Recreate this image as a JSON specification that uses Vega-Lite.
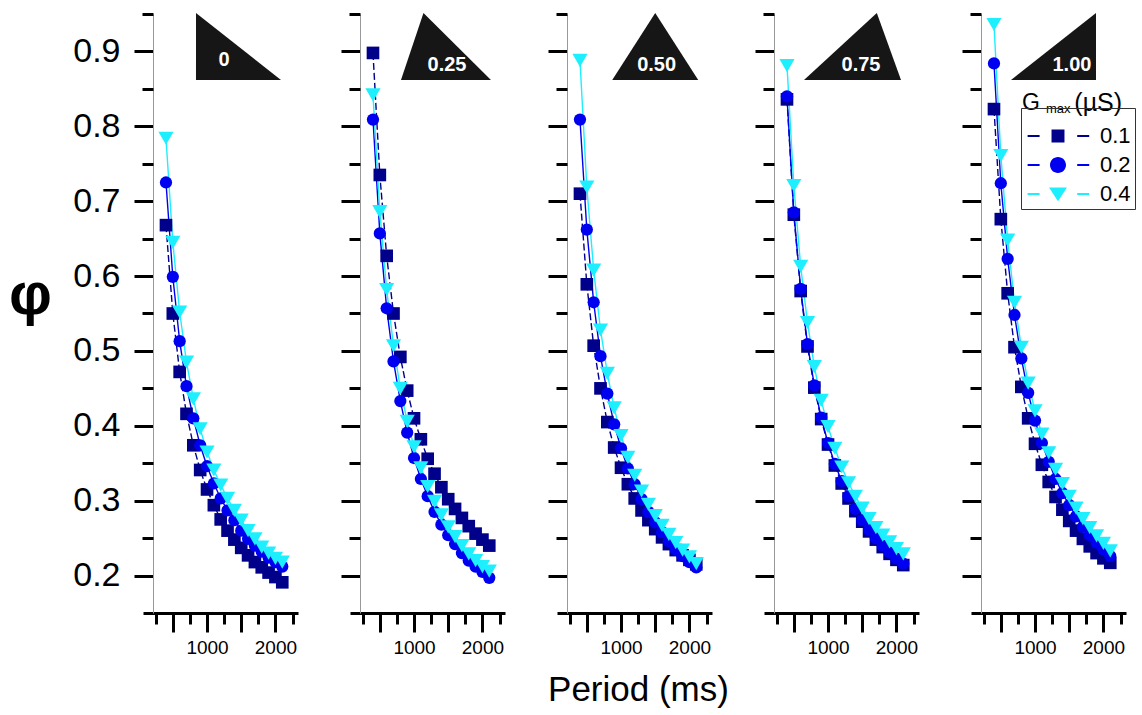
{
"$schema":"https://vega.github.io/schema/vega-lite/v6.json",
"background":"white",
"padding":{"left":8,"top":12,"right":5,"bottom":5},
"config":{"font":"Liberation Sans","view":{"stroke":null},"axis":{"labelFont":"Liberation Sans","titleFont":"Liberation Sans"}},
"spacing":52,
"bounds":"flush",
"resolve":{"legend":{"shape":"independent","color":"independent"}},
"datasets":{
"asym":[{"w":"0"},{"w":"0.25"},{"w":"0.50"},{"w":"0.75"},{"w":"1.00"}],
"pts":[
{"w":"0","g":"0.1","p":400,"v":0.668},{"w":"0","g":"0.1","p":500,"v":0.550},{"w":"0","g":"0.1","p":600,"v":0.472},{"w":"0","g":"0.1","p":700,"v":0.416},{"w":"0","g":"0.1","p":800,"v":0.374},{"w":"0","g":"0.1","p":900,"v":0.341},{"w":"0","g":"0.1","p":1000,"v":0.315},{"w":"0","g":"0.1","p":1100,"v":0.294},{"w":"0","g":"0.1","p":1200,"v":0.275},{"w":"0","g":"0.1","p":1300,"v":0.260},{"w":"0","g":"0.1","p":1400,"v":0.248},{"w":"0","g":"0.1","p":1500,"v":0.237},{"w":"0","g":"0.1","p":1600,"v":0.227},{"w":"0","g":"0.1","p":1700,"v":0.218},{"w":"0","g":"0.1","p":1800,"v":0.211},{"w":"0","g":"0.1","p":1900,"v":0.204},{"w":"0","g":"0.1","p":2000,"v":0.198},{"w":"0","g":"0.1","p":2100,"v":0.191},
{"w":"0","g":"0.2","p":400,"v":0.725},{"w":"0","g":"0.2","p":500,"v":0.599},{"w":"0","g":"0.2","p":600,"v":0.513},{"w":"0","g":"0.2","p":700,"v":0.453},{"w":"0","g":"0.2","p":800,"v":0.410},{"w":"0","g":"0.2","p":900,"v":0.374},{"w":"0","g":"0.2","p":1000,"v":0.346},{"w":"0","g":"0.2","p":1100,"v":0.323},{"w":"0","g":"0.2","p":1200,"v":0.303},{"w":"0","g":"0.2","p":1300,"v":0.287},{"w":"0","g":"0.2","p":1400,"v":0.274},{"w":"0","g":"0.2","p":1500,"v":0.260},{"w":"0","g":"0.2","p":1600,"v":0.249},{"w":"0","g":"0.2","p":1700,"v":0.240},{"w":"0","g":"0.2","p":1800,"v":0.232},{"w":"0","g":"0.2","p":1900,"v":0.224},{"w":"0","g":"0.2","p":2000,"v":0.218},{"w":"0","g":"0.2","p":2100,"v":0.212},
{"w":"0","g":"0.4","p":400,"v":0.784},{"w":"0","g":"0.4","p":500,"v":0.645},{"w":"0","g":"0.4","p":600,"v":0.552},{"w":"0","g":"0.4","p":700,"v":0.485},{"w":"0","g":"0.4","p":800,"v":0.436},{"w":"0","g":"0.4","p":900,"v":0.396},{"w":"0","g":"0.4","p":1000,"v":0.365},{"w":"0","g":"0.4","p":1100,"v":0.341},{"w":"0","g":"0.4","p":1200,"v":0.321},{"w":"0","g":"0.4","p":1300,"v":0.303},{"w":"0","g":"0.4","p":1400,"v":0.287},{"w":"0","g":"0.4","p":1500,"v":0.274},{"w":"0","g":"0.4","p":1600,"v":0.260},{"w":"0","g":"0.4","p":1700,"v":0.249},{"w":"0","g":"0.4","p":1800,"v":0.238},{"w":"0","g":"0.4","p":1900,"v":0.230},{"w":"0","g":"0.4","p":2000,"v":0.223},{"w":"0","g":"0.4","p":2100,"v":0.218},
{"w":"0.25","g":"0.1","p":400,"v":0.898},{"w":"0.25","g":"0.1","p":500,"v":0.735},{"w":"0.25","g":"0.1","p":600,"v":0.627},{"w":"0.25","g":"0.1","p":700,"v":0.550},{"w":"0.25","g":"0.1","p":800,"v":0.492},{"w":"0.25","g":"0.1","p":900,"v":0.447},{"w":"0.25","g":"0.1","p":1000,"v":0.410},{"w":"0.25","g":"0.1","p":1100,"v":0.382},{"w":"0.25","g":"0.1","p":1200,"v":0.356},{"w":"0.25","g":"0.1","p":1300,"v":0.336},{"w":"0.25","g":"0.1","p":1400,"v":0.318},{"w":"0.25","g":"0.1","p":1500,"v":0.302},{"w":"0.25","g":"0.1","p":1600,"v":0.289},{"w":"0.25","g":"0.1","p":1700,"v":0.277},{"w":"0.25","g":"0.1","p":1800,"v":0.266},{"w":"0.25","g":"0.1","p":1900,"v":0.256},{"w":"0.25","g":"0.1","p":2000,"v":0.248},{"w":"0.25","g":"0.1","p":2100,"v":0.240},
{"w":"0.25","g":"0.2","p":400,"v":0.809},{"w":"0.25","g":"0.2","p":500,"v":0.657},{"w":"0.25","g":"0.2","p":600,"v":0.557},{"w":"0.25","g":"0.2","p":700,"v":0.486},{"w":"0.25","g":"0.2","p":800,"v":0.433},{"w":"0.25","g":"0.2","p":900,"v":0.391},{"w":"0.25","g":"0.2","p":1000,"v":0.357},{"w":"0.25","g":"0.2","p":1100,"v":0.329},{"w":"0.25","g":"0.2","p":1200,"v":0.306},{"w":"0.25","g":"0.2","p":1300,"v":0.285},{"w":"0.25","g":"0.2","p":1400,"v":0.268},{"w":"0.25","g":"0.2","p":1500,"v":0.254},{"w":"0.25","g":"0.2","p":1600,"v":0.242},{"w":"0.25","g":"0.2","p":1700,"v":0.230},{"w":"0.25","g":"0.2","p":1800,"v":0.220},{"w":"0.25","g":"0.2","p":1900,"v":0.212},{"w":"0.25","g":"0.2","p":2000,"v":0.205},{"w":"0.25","g":"0.2","p":2100,"v":0.197},
{"w":"0.25","g":"0.4","p":400,"v":0.842},{"w":"0.25","g":"0.4","p":500,"v":0.686},{"w":"0.25","g":"0.4","p":600,"v":0.582},{"w":"0.25","g":"0.4","p":700,"v":0.507},{"w":"0.25","g":"0.4","p":800,"v":0.450},{"w":"0.25","g":"0.4","p":900,"v":0.406},{"w":"0.25","g":"0.4","p":1000,"v":0.372},{"w":"0.25","g":"0.4","p":1100,"v":0.344},{"w":"0.25","g":"0.4","p":1200,"v":0.319},{"w":"0.25","g":"0.4","p":1300,"v":0.299},{"w":"0.25","g":"0.4","p":1400,"v":0.281},{"w":"0.25","g":"0.4","p":1500,"v":0.265},{"w":"0.25","g":"0.4","p":1600,"v":0.252},{"w":"0.25","g":"0.4","p":1700,"v":0.240},{"w":"0.25","g":"0.4","p":1800,"v":0.229},{"w":"0.25","g":"0.4","p":1900,"v":0.220},{"w":"0.25","g":"0.4","p":2000,"v":0.212},{"w":"0.25","g":"0.4","p":2100,"v":0.206},
{"w":"0.50","g":"0.1","p":400,"v":0.710},{"w":"0.50","g":"0.1","p":500,"v":0.589},{"w":"0.50","g":"0.1","p":600,"v":0.507},{"w":"0.50","g":"0.1","p":700,"v":0.450},{"w":"0.50","g":"0.1","p":800,"v":0.405},{"w":"0.50","g":"0.1","p":900,"v":0.371},{"w":"0.50","g":"0.1","p":1000,"v":0.344},{"w":"0.50","g":"0.1","p":1100,"v":0.322},{"w":"0.50","g":"0.1","p":1200,"v":0.303},{"w":"0.50","g":"0.1","p":1300,"v":0.287},{"w":"0.50","g":"0.1","p":1400,"v":0.274},{"w":"0.50","g":"0.1","p":1500,"v":0.262},{"w":"0.50","g":"0.1","p":1600,"v":0.251},{"w":"0.50","g":"0.1","p":1700,"v":0.242},{"w":"0.50","g":"0.1","p":1800,"v":0.234},{"w":"0.50","g":"0.1","p":1900,"v":0.227},{"w":"0.50","g":"0.1","p":2000,"v":0.221},{"w":"0.50","g":"0.1","p":2100,"v":0.215},
{"w":"0.50","g":"0.2","p":400,"v":0.809},{"w":"0.50","g":"0.2","p":500,"v":0.662},{"w":"0.50","g":"0.2","p":600,"v":0.565},{"w":"0.50","g":"0.2","p":700,"v":0.493},{"w":"0.50","g":"0.2","p":800,"v":0.443},{"w":"0.50","g":"0.2","p":900,"v":0.402},{"w":"0.50","g":"0.2","p":1000,"v":0.370},{"w":"0.50","g":"0.2","p":1100,"v":0.343},{"w":"0.50","g":"0.2","p":1200,"v":0.322},{"w":"0.50","g":"0.2","p":1300,"v":0.302},{"w":"0.50","g":"0.2","p":1400,"v":0.285},{"w":"0.50","g":"0.2","p":1500,"v":0.271},{"w":"0.50","g":"0.2","p":1600,"v":0.258},{"w":"0.50","g":"0.2","p":1700,"v":0.246},{"w":"0.50","g":"0.2","p":1800,"v":0.235},{"w":"0.50","g":"0.2","p":1900,"v":0.226},{"w":"0.50","g":"0.2","p":2000,"v":0.218},{"w":"0.50","g":"0.2","p":2100,"v":0.211},
{"w":"0.50","g":"0.4","p":400,"v":0.888},{"w":"0.50","g":"0.4","p":500,"v":0.719},{"w":"0.50","g":"0.4","p":600,"v":0.608},{"w":"0.50","g":"0.4","p":700,"v":0.528},{"w":"0.50","g":"0.4","p":800,"v":0.470},{"w":"0.50","g":"0.4","p":900,"v":0.424},{"w":"0.50","g":"0.4","p":1000,"v":0.387},{"w":"0.50","g":"0.4","p":1100,"v":0.358},{"w":"0.50","g":"0.4","p":1200,"v":0.334},{"w":"0.50","g":"0.4","p":1300,"v":0.313},{"w":"0.50","g":"0.4","p":1400,"v":0.295},{"w":"0.50","g":"0.4","p":1500,"v":0.280},{"w":"0.50","g":"0.4","p":1600,"v":0.267},{"w":"0.50","g":"0.4","p":1700,"v":0.255},{"w":"0.50","g":"0.4","p":1800,"v":0.244},{"w":"0.50","g":"0.4","p":1900,"v":0.234},{"w":"0.50","g":"0.4","p":2000,"v":0.225},{"w":"0.50","g":"0.4","p":2100,"v":0.216},
{"w":"0.75","g":"0.1","p":400,"v":0.836},{"w":"0.75","g":"0.1","p":500,"v":0.682},{"w":"0.75","g":"0.1","p":600,"v":0.580},{"w":"0.75","g":"0.1","p":700,"v":0.506},{"w":"0.75","g":"0.1","p":800,"v":0.451},{"w":"0.75","g":"0.1","p":900,"v":0.409},{"w":"0.75","g":"0.1","p":1000,"v":0.375},{"w":"0.75","g":"0.1","p":1100,"v":0.347},{"w":"0.75","g":"0.1","p":1200,"v":0.323},{"w":"0.75","g":"0.1","p":1300,"v":0.303},{"w":"0.75","g":"0.1","p":1400,"v":0.286},{"w":"0.75","g":"0.1","p":1500,"v":0.272},{"w":"0.75","g":"0.1","p":1600,"v":0.259},{"w":"0.75","g":"0.1","p":1700,"v":0.248},{"w":"0.75","g":"0.1","p":1800,"v":0.238},{"w":"0.75","g":"0.1","p":1900,"v":0.229},{"w":"0.75","g":"0.1","p":2000,"v":0.221},{"w":"0.75","g":"0.1","p":2100,"v":0.214},
{"w":"0.75","g":"0.2","p":400,"v":0.840},{"w":"0.75","g":"0.2","p":500,"v":0.685},{"w":"0.75","g":"0.2","p":600,"v":0.583},{"w":"0.75","g":"0.2","p":700,"v":0.509},{"w":"0.75","g":"0.2","p":800,"v":0.454},{"w":"0.75","g":"0.2","p":900,"v":0.411},{"w":"0.75","g":"0.2","p":1000,"v":0.377},{"w":"0.75","g":"0.2","p":1100,"v":0.349},{"w":"0.75","g":"0.2","p":1200,"v":0.326},{"w":"0.75","g":"0.2","p":1300,"v":0.306},{"w":"0.75","g":"0.2","p":1400,"v":0.289},{"w":"0.75","g":"0.2","p":1500,"v":0.274},{"w":"0.75","g":"0.2","p":1600,"v":0.261},{"w":"0.75","g":"0.2","p":1700,"v":0.250},{"w":"0.75","g":"0.2","p":1800,"v":0.240},{"w":"0.75","g":"0.2","p":1900,"v":0.231},{"w":"0.75","g":"0.2","p":2000,"v":0.223},{"w":"0.75","g":"0.2","p":2100,"v":0.216},
{"w":"0.75","g":"0.4","p":400,"v":0.881},{"w":"0.75","g":"0.4","p":500,"v":0.721},{"w":"0.75","g":"0.4","p":600,"v":0.613},{"w":"0.75","g":"0.4","p":700,"v":0.538},{"w":"0.75","g":"0.4","p":800,"v":0.479},{"w":"0.75","g":"0.4","p":900,"v":0.434},{"w":"0.75","g":"0.4","p":1000,"v":0.399},{"w":"0.75","g":"0.4","p":1100,"v":0.370},{"w":"0.75","g":"0.4","p":1200,"v":0.345},{"w":"0.75","g":"0.4","p":1300,"v":0.324},{"w":"0.75","g":"0.4","p":1400,"v":0.306},{"w":"0.75","g":"0.4","p":1500,"v":0.290},{"w":"0.75","g":"0.4","p":1600,"v":0.276},{"w":"0.75","g":"0.4","p":1700,"v":0.264},{"w":"0.75","g":"0.4","p":1800,"v":0.254},{"w":"0.75","g":"0.4","p":1900,"v":0.245},{"w":"0.75","g":"0.4","p":2000,"v":0.236},{"w":"0.75","g":"0.4","p":2100,"v":0.229},
{"w":"1.00","g":"0.1","p":400,"v":0.823},{"w":"1.00","g":"0.1","p":500,"v":0.676},{"w":"1.00","g":"0.1","p":600,"v":0.577},{"w":"1.00","g":"0.1","p":700,"v":0.505},{"w":"1.00","g":"0.1","p":800,"v":0.452},{"w":"1.00","g":"0.1","p":900,"v":0.410},{"w":"1.00","g":"0.1","p":1000,"v":0.376},{"w":"1.00","g":"0.1","p":1100,"v":0.348},{"w":"1.00","g":"0.1","p":1200,"v":0.325},{"w":"1.00","g":"0.1","p":1300,"v":0.305},{"w":"1.00","g":"0.1","p":1400,"v":0.288},{"w":"1.00","g":"0.1","p":1500,"v":0.273},{"w":"1.00","g":"0.1","p":1600,"v":0.260},{"w":"1.00","g":"0.1","p":1700,"v":0.249},{"w":"1.00","g":"0.1","p":1800,"v":0.239},{"w":"1.00","g":"0.1","p":1900,"v":0.230},{"w":"1.00","g":"0.1","p":2000,"v":0.223},{"w":"1.00","g":"0.1","p":2100,"v":0.217},
{"w":"1.00","g":"0.2","p":400,"v":0.884},{"w":"1.00","g":"0.2","p":500,"v":0.724},{"w":"1.00","g":"0.2","p":600,"v":0.623},{"w":"1.00","g":"0.2","p":700,"v":0.548},{"w":"1.00","g":"0.2","p":800,"v":0.490},{"w":"1.00","g":"0.2","p":900,"v":0.444},{"w":"1.00","g":"0.2","p":1000,"v":0.407},{"w":"1.00","g":"0.2","p":1100,"v":0.377},{"w":"1.00","g":"0.2","p":1200,"v":0.352},{"w":"1.00","g":"0.2","p":1300,"v":0.329},{"w":"1.00","g":"0.2","p":1400,"v":0.310},{"w":"1.00","g":"0.2","p":1500,"v":0.294},{"w":"1.00","g":"0.2","p":1600,"v":0.279},{"w":"1.00","g":"0.2","p":1700,"v":0.265},{"w":"1.00","g":"0.2","p":1800,"v":0.254},{"w":"1.00","g":"0.2","p":1900,"v":0.244},{"w":"1.00","g":"0.2","p":2000,"v":0.235},{"w":"1.00","g":"0.2","p":2100,"v":0.226},
{"w":"1.00","g":"0.4","p":400,"v":0.936},{"w":"1.00","g":"0.4","p":500,"v":0.761},{"w":"1.00","g":"0.4","p":600,"v":0.648},{"w":"1.00","g":"0.4","p":700,"v":0.565},{"w":"1.00","g":"0.4","p":800,"v":0.505},{"w":"1.00","g":"0.4","p":900,"v":0.457},{"w":"1.00","g":"0.4","p":1000,"v":0.420},{"w":"1.00","g":"0.4","p":1100,"v":0.389},{"w":"1.00","g":"0.4","p":1200,"v":0.364},{"w":"1.00","g":"0.4","p":1300,"v":0.342},{"w":"1.00","g":"0.4","p":1400,"v":0.323},{"w":"1.00","g":"0.4","p":1500,"v":0.306},{"w":"1.00","g":"0.4","p":1600,"v":0.290},{"w":"1.00","g":"0.4","p":1700,"v":0.276},{"w":"1.00","g":"0.4","p":1800,"v":0.264},{"w":"1.00","g":"0.4","p":1900,"v":0.253},{"w":"1.00","g":"0.4","p":2000,"v":0.243},{"w":"1.00","g":"0.4","p":2100,"v":0.233}
]},
"hconcat":[
{"width":155,"height":599,"layer":[
{"data":{"name":"pts"},"transform":[{"filter":"datum.w==='0' && datum.g==='0.1'"}],"mark":{"type":"line","color":"#00008B","strokeWidth":1.4,"strokeDash":[7,3]},
"encoding":{"x":{"field":"p","type":"quantitative","scale":{"domain":[64,2330],"nice":false,"zero":false},"axis":{"orient":"bottom","values":[500,1000,1500,2000],"format":"d","labelExpr":"datum.value % 1000 === 0 ? datum.label : ''","title":null,"grid":false,"domainColor":"black","domainWidth":3,"tickSize":19,"tickWidth":3,"tickColor":"black","labelFontSize":19,"labelColor":"black","labelPadding":6,"labelFlush":false,"labelOverlap":false,"labelBound":false}},
"y":{"field":"v","type":"quantitative","scale":{"domain":[0.15,0.95],"nice":false,"zero":false},"axis":{"orient":"left","offset":-10,"values":[0.2,0.3,0.4,0.5,0.6,0.7,0.8,0.9],"format":".1f","grid":false,"domainColor":"#999999","domainWidth":1,"tickSize":19,"tickWidth":3,"tickColor":"black","labelFontSize":34,"labelColor":"black","labelPadding":14,"labelFlush":false,"labelOverlap":false,"title":"φ","titleFontSize":60,"titleFontWeight":"bold","titleColor":"black","titleAngle":0,"titleAlign":"center","titleBaseline":"alphabetic","titleX":-123,"titleY":299}}}},
{"data":{"name":"pts"},"transform":[{"filter":"datum.w==='0' && datum.g==='0.2'"}],"mark":{"type":"line","color":"#0000F0","strokeWidth":1.4},"encoding":{"x":{"field":"p","type":"quantitative","axis":null},"y":{"field":"v","type":"quantitative","axis":null}}},
{"data":{"name":"pts"},"transform":[{"filter":"datum.w==='0' && datum.g==='0.4'"}],"mark":{"type":"line","color":"#1EEFFF","strokeWidth":1.4},"encoding":{"x":{"field":"p","type":"quantitative","axis":null},"y":{"field":"v","type":"quantitative","axis":null}}},
{"data":{"name":"pts"},"transform":[{"filter":"datum.w==='0' && datum.g==='0.1'"}],"mark":{"type":"point","shape":"square","size":160,"filled":true,"color":"#00008B","opacity":1,"strokeWidth":0},
"encoding":{"x":{"field":"p","type":"quantitative","axis":{"orient":"bottom","values":[250,750,1250,1750,2250],"labels":false,"domain":false,"grid":false,"tickSize":11,"tickWidth":3,"tickColor":"black","title":null}},
"y":{"field":"v","type":"quantitative","axis":{"orient":"left","offset":-10,"values":[0.25,0.35,0.45,0.55,0.65,0.75,0.85,0.95],"labels":false,"domain":false,"grid":false,"tickSize":11,"tickWidth":3,"tickColor":"black","title":null}}}},
{"data":{"name":"pts"},"transform":[{"filter":"datum.w==='0' && datum.g==='0.2'"}],"mark":{"type":"point","shape":"circle","size":150,"filled":true,"color":"#0000F0","opacity":1,"strokeWidth":0},"encoding":{"x":{"field":"p","type":"quantitative","axis":null},"y":{"field":"v","type":"quantitative","axis":null}}},
{"data":{"name":"pts"},"transform":[{"filter":"datum.w==='0' && datum.g==='0.4'"}],"mark":{"type":"point","shape":"triangle-down","size":230,"filled":true,"color":"#1EEFFF","opacity":1,"strokeWidth":0},"encoding":{"x":{"field":"p","type":"quantitative","axis":null},"y":{"field":"v","type":"quantitative","axis":null}}},
{"data":{"name":"asym"},"transform":[{"filter":"datum.w==='0'"}],"mark":{"type":"point","shape":"M -4.25 -3.35 L -4.25 3.35 L 4.25 3.35 Z","size":400,"filled":true,"color":"#161616","opacity":1,"strokeWidth":0},
"encoding":{"x":{"datum":1460,"type":"quantitative","axis":null},"y":{"datum":0.9066,"type":"quantitative","axis":null}}},
{"data":{"name":"asym"},"transform":[{"filter":"datum.w==='0'"}],"mark":{"type":"text","color":"white","fontWeight":"bold","fontSize":20},
"encoding":{"x":{"datum":1250,"type":"quantitative","axis":null},"y":{"datum":0.8886,"type":"quantitative","axis":null},"text":{"field":"w"}}}
],"resolve":{"axis":{"x":"independent","y":"independent"}}},
{"width":155,"height":599,"layer":[
{"data":{"name":"pts"},"transform":[{"filter":"datum.w==='0.25' && datum.g==='0.1'"}],"mark":{"type":"line","color":"#00008B","strokeWidth":1.4,"strokeDash":[7,3]},
"encoding":{"x":{"field":"p","type":"quantitative","scale":{"domain":[64,2330],"nice":false,"zero":false},"axis":{"orient":"bottom","values":[500,1000,1500,2000],"format":"d","labelExpr":"datum.value % 1000 === 0 ? datum.label : ''","title":null,"grid":false,"domainColor":"black","domainWidth":3,"tickSize":19,"tickWidth":3,"tickColor":"black","labelFontSize":19,"labelColor":"black","labelPadding":6,"labelFlush":false,"labelOverlap":false,"labelBound":false}},
"y":{"field":"v","type":"quantitative","scale":{"domain":[0.15,0.95],"nice":false,"zero":false},"axis":{"orient":"left","offset":-10,"values":[0.2,0.3,0.4,0.5,0.6,0.7,0.8,0.9],"labels":false,"grid":false,"domainColor":"#999999","domainWidth":1,"tickSize":19,"tickWidth":3,"tickColor":"black","title":null}}}},
{"data":{"name":"pts"},"transform":[{"filter":"datum.w==='0.25' && datum.g==='0.2'"}],"mark":{"type":"line","color":"#0000F0","strokeWidth":1.4},"encoding":{"x":{"field":"p","type":"quantitative","axis":null},"y":{"field":"v","type":"quantitative","axis":null}}},
{"data":{"name":"pts"},"transform":[{"filter":"datum.w==='0.25' && datum.g==='0.4'"}],"mark":{"type":"line","color":"#1EEFFF","strokeWidth":1.4},"encoding":{"x":{"field":"p","type":"quantitative","axis":null},"y":{"field":"v","type":"quantitative","axis":null}}},
{"data":{"name":"pts"},"transform":[{"filter":"datum.w==='0.25' && datum.g==='0.1'"}],"mark":{"type":"point","shape":"square","size":160,"filled":true,"color":"#00008B","opacity":1,"strokeWidth":0},
"encoding":{"x":{"field":"p","type":"quantitative","axis":{"orient":"bottom","values":[250,750,1250,1750,2250],"labels":false,"domain":false,"grid":false,"tickSize":11,"tickWidth":3,"tickColor":"black","title":null}},
"y":{"field":"v","type":"quantitative","axis":{"orient":"left","offset":-10,"values":[0.25,0.35,0.45,0.55,0.65,0.75,0.85,0.95],"labels":false,"domain":false,"grid":false,"tickSize":11,"tickWidth":3,"tickColor":"black","title":null}}}},
{"data":{"name":"pts"},"transform":[{"filter":"datum.w==='0.25' && datum.g==='0.2'"}],"mark":{"type":"point","shape":"circle","size":150,"filled":true,"color":"#0000F0","opacity":1,"strokeWidth":0},"encoding":{"x":{"field":"p","type":"quantitative","axis":null},"y":{"field":"v","type":"quantitative","axis":null}}},
{"data":{"name":"pts"},"transform":[{"filter":"datum.w==='0.25' && datum.g==='0.4'"}],"mark":{"type":"point","shape":"triangle-down","size":230,"filled":true,"color":"#1EEFFF","opacity":1,"strokeWidth":0},"encoding":{"x":{"field":"p","type":"quantitative","axis":null},"y":{"field":"v","type":"quantitative","axis":null}}},
{"data":{"name":"asym"},"transform":[{"filter":"datum.w==='0.25'"}],"mark":{"type":"point","shape":"M -4.5 3.35 L -2.25 -3.35 L 4.5 3.35 Z","size":400,"filled":true,"color":"#161616","opacity":1,"strokeWidth":0},
"encoding":{"x":{"datum":1467,"type":"quantitative","axis":null},"y":{"datum":0.9066,"type":"quantitative","axis":null}}},
{"data":{"name":"asym"},"transform":[{"filter":"datum.w==='0.25'"}],"mark":{"type":"text","color":"white","fontWeight":"bold","fontSize":20},
"encoding":{"x":{"datum":1482,"type":"quantitative","axis":null},"y":{"datum":0.882,"type":"quantitative","axis":null},"text":{"field":"w"}}}
],"resolve":{"axis":{"x":"independent","y":"independent"}}},
{"width":155,"height":599,"layer":[
{"data":{"name":"pts"},"transform":[{"filter":"datum.w==='0.50' && datum.g==='0.1'"}],"mark":{"type":"line","color":"#00008B","strokeWidth":1.4,"strokeDash":[7,3]},
"encoding":{"x":{"field":"p","type":"quantitative","scale":{"domain":[64,2330],"nice":false,"zero":false},"axis":{"orient":"bottom","values":[500,1000,1500,2000],"format":"d","labelExpr":"datum.value % 1000 === 0 ? datum.label : ''","grid":false,"domainColor":"black","domainWidth":3,"tickSize":19,"tickWidth":3,"tickColor":"black","labelFontSize":19,"labelColor":"black","labelPadding":6,"labelFlush":false,"labelOverlap":false,"labelBound":false,"title":"Period (ms)","titleFontSize":35,"titleFontWeight":"normal","titleColor":"black","titleAlign":"center","titleBaseline":"alphabetic","titleX":81,"titleY":87}},
"y":{"field":"v","type":"quantitative","scale":{"domain":[0.15,0.95],"nice":false,"zero":false},"axis":{"orient":"left","offset":-10,"values":[0.2,0.3,0.4,0.5,0.6,0.7,0.8,0.9],"labels":false,"grid":false,"domainColor":"#999999","domainWidth":1,"tickSize":19,"tickWidth":3,"tickColor":"black","title":null}}}},
{"data":{"name":"pts"},"transform":[{"filter":"datum.w==='0.50' && datum.g==='0.2'"}],"mark":{"type":"line","color":"#0000F0","strokeWidth":1.4},"encoding":{"x":{"field":"p","type":"quantitative","axis":null},"y":{"field":"v","type":"quantitative","axis":null}}},
{"data":{"name":"pts"},"transform":[{"filter":"datum.w==='0.50' && datum.g==='0.4'"}],"mark":{"type":"line","color":"#1EEFFF","strokeWidth":1.4},"encoding":{"x":{"field":"p","type":"quantitative","axis":null},"y":{"field":"v","type":"quantitative","axis":null}}},
{"data":{"name":"pts"},"transform":[{"filter":"datum.w==='0.50' && datum.g==='0.1'"}],"mark":{"type":"point","shape":"square","size":160,"filled":true,"color":"#00008B","opacity":1,"strokeWidth":0},
"encoding":{"x":{"field":"p","type":"quantitative","axis":{"orient":"bottom","values":[250,750,1250,1750,2250],"labels":false,"domain":false,"grid":false,"tickSize":11,"tickWidth":3,"tickColor":"black","title":null}},
"y":{"field":"v","type":"quantitative","axis":{"orient":"left","offset":-10,"values":[0.25,0.35,0.45,0.55,0.65,0.75,0.85,0.95],"labels":false,"domain":false,"grid":false,"tickSize":11,"tickWidth":3,"tickColor":"black","title":null}}}},
{"data":{"name":"pts"},"transform":[{"filter":"datum.w==='0.50' && datum.g==='0.2'"}],"mark":{"type":"point","shape":"circle","size":150,"filled":true,"color":"#0000F0","opacity":1,"strokeWidth":0},"encoding":{"x":{"field":"p","type":"quantitative","axis":null},"y":{"field":"v","type":"quantitative","axis":null}}},
{"data":{"name":"pts"},"transform":[{"filter":"datum.w==='0.50' && datum.g==='0.4'"}],"mark":{"type":"point","shape":"triangle-down","size":230,"filled":true,"color":"#1EEFFF","opacity":1,"strokeWidth":0},"encoding":{"x":{"field":"p","type":"quantitative","axis":null},"y":{"field":"v","type":"quantitative","axis":null}}},
{"data":{"name":"asym"},"transform":[{"filter":"datum.w==='0.50'"}],"mark":{"type":"point","shape":"M -4.3 3.35 L 0 -3.35 L 4.3 3.35 Z","size":400,"filled":true,"color":"#161616","opacity":1,"strokeWidth":0},
"encoding":{"x":{"datum":1500,"type":"quantitative","axis":null},"y":{"datum":0.9066,"type":"quantitative","axis":null}}},
{"data":{"name":"asym"},"transform":[{"filter":"datum.w==='0.50'"}],"mark":{"type":"text","color":"white","fontWeight":"bold","fontSize":20},
"encoding":{"x":{"datum":1520,"type":"quantitative","axis":null},"y":{"datum":0.882,"type":"quantitative","axis":null},"text":{"field":"w"}}}
],"resolve":{"axis":{"x":"independent","y":"independent"}}},
{"width":155,"height":599,"layer":[
{"data":{"name":"pts"},"transform":[{"filter":"datum.w==='0.75' && datum.g==='0.1'"}],"mark":{"type":"line","color":"#00008B","strokeWidth":1.4,"strokeDash":[7,3]},
"encoding":{"x":{"field":"p","type":"quantitative","scale":{"domain":[64,2330],"nice":false,"zero":false},"axis":{"orient":"bottom","values":[500,1000,1500,2000],"format":"d","labelExpr":"datum.value % 1000 === 0 ? datum.label : ''","title":null,"grid":false,"domainColor":"black","domainWidth":3,"tickSize":19,"tickWidth":3,"tickColor":"black","labelFontSize":19,"labelColor":"black","labelPadding":6,"labelFlush":false,"labelOverlap":false,"labelBound":false}},
"y":{"field":"v","type":"quantitative","scale":{"domain":[0.15,0.95],"nice":false,"zero":false},"axis":{"orient":"left","offset":-10,"values":[0.2,0.3,0.4,0.5,0.6,0.7,0.8,0.9],"labels":false,"grid":false,"domainColor":"#999999","domainWidth":1,"tickSize":19,"tickWidth":3,"tickColor":"black","title":null}}}},
{"data":{"name":"pts"},"transform":[{"filter":"datum.w==='0.75' && datum.g==='0.2'"}],"mark":{"type":"line","color":"#0000F0","strokeWidth":1.4},"encoding":{"x":{"field":"p","type":"quantitative","axis":null},"y":{"field":"v","type":"quantitative","axis":null}}},
{"data":{"name":"pts"},"transform":[{"filter":"datum.w==='0.75' && datum.g==='0.4'"}],"mark":{"type":"line","color":"#1EEFFF","strokeWidth":1.4},"encoding":{"x":{"field":"p","type":"quantitative","axis":null},"y":{"field":"v","type":"quantitative","axis":null}}},
{"data":{"name":"pts"},"transform":[{"filter":"datum.w==='0.75' && datum.g==='0.1'"}],"mark":{"type":"point","shape":"square","size":160,"filled":true,"color":"#00008B","opacity":1,"strokeWidth":0},
"encoding":{"x":{"field":"p","type":"quantitative","axis":{"orient":"bottom","values":[250,750,1250,1750,2250],"labels":false,"domain":false,"grid":false,"tickSize":11,"tickWidth":3,"tickColor":"black","title":null}},
"y":{"field":"v","type":"quantitative","axis":{"orient":"left","offset":-10,"values":[0.25,0.35,0.45,0.55,0.65,0.75,0.85,0.95],"labels":false,"domain":false,"grid":false,"tickSize":11,"tickWidth":3,"tickColor":"black","title":null}}}},
{"data":{"name":"pts"},"transform":[{"filter":"datum.w==='0.75' && datum.g==='0.2'"}],"mark":{"type":"point","shape":"circle","size":150,"filled":true,"color":"#0000F0","opacity":1,"strokeWidth":0},"encoding":{"x":{"field":"p","type":"quantitative","axis":null},"y":{"field":"v","type":"quantitative","axis":null}}},
{"data":{"name":"pts"},"transform":[{"filter":"datum.w==='0.75' && datum.g==='0.4'"}],"mark":{"type":"point","shape":"triangle-down","size":230,"filled":true,"color":"#1EEFFF","opacity":1,"strokeWidth":0},"encoding":{"x":{"field":"p","type":"quantitative","axis":null},"y":{"field":"v","type":"quantitative","axis":null}}},
{"data":{"name":"asym"},"transform":[{"filter":"datum.w==='0.75'"}],"mark":{"type":"point","shape":"M -4.85 3.35 L 2.43 -3.35 L 4.85 3.35 Z","size":400,"filled":true,"color":"#161616","opacity":1,"strokeWidth":0},
"encoding":{"x":{"datum":1358,"type":"quantitative","axis":null},"y":{"datum":0.9066,"type":"quantitative","axis":null}}},
{"data":{"name":"asym"},"transform":[{"filter":"datum.w==='0.75'"}],"mark":{"type":"text","color":"white","fontWeight":"bold","fontSize":20},
"encoding":{"x":{"datum":1482,"type":"quantitative","axis":null},"y":{"datum":0.882,"type":"quantitative","axis":null},"text":{"field":"w"}}}
],"resolve":{"axis":{"x":"independent","y":"independent"}}},
{"width":155,"height":599,"layer":[
{"data":{"name":"pts"},"transform":[{"filter":"datum.w==='1.00' && datum.g==='0.1'"}],"mark":{"type":"line","color":"#00008B","strokeWidth":1.4,"strokeDash":[7,3]},
"encoding":{"x":{"field":"p","type":"quantitative","scale":{"domain":[64,2330],"nice":false,"zero":false},"axis":{"orient":"bottom","values":[500,1000,1500,2000],"format":"d","labelExpr":"datum.value % 1000 === 0 ? datum.label : ''","title":null,"grid":false,"domainColor":"black","domainWidth":3,"tickSize":19,"tickWidth":3,"tickColor":"black","labelFontSize":19,"labelColor":"black","labelPadding":6,"labelFlush":false,"labelOverlap":false,"labelBound":false}},
"y":{"field":"v","type":"quantitative","scale":{"domain":[0.15,0.95],"nice":false,"zero":false},"axis":{"orient":"left","offset":-10,"values":[0.2,0.3,0.4,0.5,0.6,0.7,0.8,0.9],"labels":false,"grid":false,"domainColor":"#999999","domainWidth":1,"tickSize":19,"tickWidth":3,"tickColor":"black","title":null}}}},
{"data":{"name":"pts"},"transform":[{"filter":"datum.w==='1.00' && datum.g==='0.2'"}],"mark":{"type":"line","color":"#0000F0","strokeWidth":1.4},"encoding":{"x":{"field":"p","type":"quantitative","axis":null},"y":{"field":"v","type":"quantitative","axis":null}}},
{"data":{"name":"pts"},"transform":[{"filter":"datum.w==='1.00' && datum.g==='0.4'"}],"mark":{"type":"line","color":"#1EEFFF","strokeWidth":1.4},"encoding":{"x":{"field":"p","type":"quantitative","axis":null},"y":{"field":"v","type":"quantitative","axis":null}}},
{"data":{"name":"pts"},"transform":[{"filter":"datum.w==='1.00' && datum.g==='0.1'"}],"mark":{"type":"point","shape":"square","size":160,"filled":true,"color":"#00008B","opacity":1,"strokeWidth":0},
"encoding":{"x":{"field":"p","type":"quantitative","axis":{"orient":"bottom","values":[250,750,1250,1750,2250],"labels":false,"domain":false,"grid":false,"tickSize":11,"tickWidth":3,"tickColor":"black","title":null}},
"y":{"field":"v","type":"quantitative","axis":{"orient":"left","offset":-10,"values":[0.25,0.35,0.45,0.55,0.65,0.75,0.85,0.95],"labels":false,"domain":false,"grid":false,"tickSize":11,"tickWidth":3,"tickColor":"black","title":null}}}},
{"data":{"name":"pts"},"transform":[{"filter":"datum.w==='1.00' && datum.g==='0.2'"}],"mark":{"type":"point","shape":"circle","size":150,"filled":true,"color":"#0000F0","opacity":1,"strokeWidth":0},"encoding":{"x":{"field":"p","type":"quantitative","axis":null},"y":{"field":"v","type":"quantitative","axis":null}}},
{"data":{"name":"pts"},"transform":[{"filter":"datum.w==='1.00' && datum.g==='0.4'"}],"mark":{"type":"point","shape":"triangle-down","size":230,"filled":true,"color":"#1EEFFF","opacity":1,"strokeWidth":0},"encoding":{"x":{"field":"p","type":"quantitative","axis":null},"y":{"field":"v","type":"quantitative","axis":null}}},
{"data":{"name":"pts"},"transform":[{"filter":"datum.w==='1.00'"}],"mark":{"type":"point","filled":true,"opacity":0,"strokeWidth":0},
"encoding":{"x":{"field":"p","type":"quantitative","axis":null},"y":{"field":"v","type":"quantitative","axis":null},
"color":{"field":"g","type":"nominal","scale":{"domain":["0.1","0.2","0.4"],"range":["#00008B","#0000F0","#1EEFFF"]},"legend":{"orient":"none","legendX":50,"legendY":94,"title":" ","titleFontSize":13,"titlePadding":0,"titleColor":"white","strokeColor":"#333333","padding":4,"symbolSize":256,"symbolOffset":22,"symbolOpacity":1,"symbolStrokeWidth":0,"labelOffset":31,"labelFontSize":22,"labelColor":"black","rowPadding":7}},
"shape":{"field":"g","type":"nominal","scale":{"domain":["0.1","0.2","0.4"],"range":["M -3.8 -0.13 L -2.3 -0.13 L -2.3 0.13 L -3.8 0.13 Z M 2.4 -0.13 L 3.9 -0.13 L 3.9 0.13 L 2.4 0.13 Z M -0.81 -0.81 L 0.81 -0.81 L 0.81 0.81 L -0.81 0.81 Z","M -3.8 -0.13 L -2.3 -0.13 L -2.3 0.13 L -3.8 0.13 Z M 2.4 -0.13 L 3.9 -0.13 L 3.9 0.13 L 2.4 0.13 Z M -1 0 A 1 1 0 1 0 1 0 A 1 1 0 1 0 -1 0 Z","M -3.8 -0.13 L -2.3 -0.13 L -2.3 0.13 L -3.8 0.13 Z M 2.4 -0.13 L 3.9 -0.13 L 3.9 0.13 L 2.4 0.13 Z M -1.12 -0.8 L 1.12 -0.8 L 0 0.9 Z"]},
"legend":{"orient":"none","legendX":50,"legendY":94,"title":" ","titleFontSize":13,"titlePadding":0,"titleColor":"white","strokeColor":"#333333","padding":4,"symbolSize":256,"symbolOffset":22,"symbolOpacity":1,"symbolStrokeWidth":0,"labelOffset":31,"labelFontSize":22,"labelColor":"black","rowPadding":7}}}},
{"data":{"name":"asym"},"transform":[{"filter":"datum.w==='1.00'"}],"mark":{"type":"point","shape":"M -4.25 3.35 L 4.25 -3.35 L 4.25 3.35 Z","size":400,"filled":true,"color":"#161616","opacity":1,"strokeWidth":0},
"encoding":{"x":{"datum":1270,"type":"quantitative","axis":null},"y":{"datum":0.9066,"type":"quantitative","axis":null}}},
{"data":{"name":"asym"},"transform":[{"filter":"datum.w==='1.00'"}],"mark":{"type":"text","color":"white","fontWeight":"bold","fontSize":20},
"encoding":{"x":{"datum":1540,"type":"quantitative","axis":null},"y":{"datum":0.882,"type":"quantitative","axis":null},"text":{"field":"w"}}},
{"data":{"values":[{"t":"G"}]},"mark":{"type":"text","fontSize":23,"align":"left","baseline":"alphabetic","color":"black"},
"encoding":{"x":{"datum":810,"type":"quantitative","axis":null},"y":{"datum":0.8218,"type":"quantitative","axis":null},"text":{"field":"t"}}},
{"data":{"values":[{"t":"max"}]},"mark":{"type":"text","fontSize":13,"align":"left","baseline":"alphabetic","color":"black"},
"encoding":{"x":{"datum":1160,"type":"quantitative","axis":null},"y":{"datum":0.8175,"type":"quantitative","axis":null},"text":{"field":"t"}}},
{"data":{"values":[{"t":"(µS)"}]},"mark":{"type":"text","fontSize":25,"align":"left","baseline":"alphabetic","color":"black"},
"encoding":{"x":{"datum":1575,"type":"quantitative","axis":null},"y":{"datum":0.8211,"type":"quantitative","axis":null},"text":{"field":"t"}}}
],"resolve":{"axis":{"x":"independent","y":"independent"}}}
]
}
